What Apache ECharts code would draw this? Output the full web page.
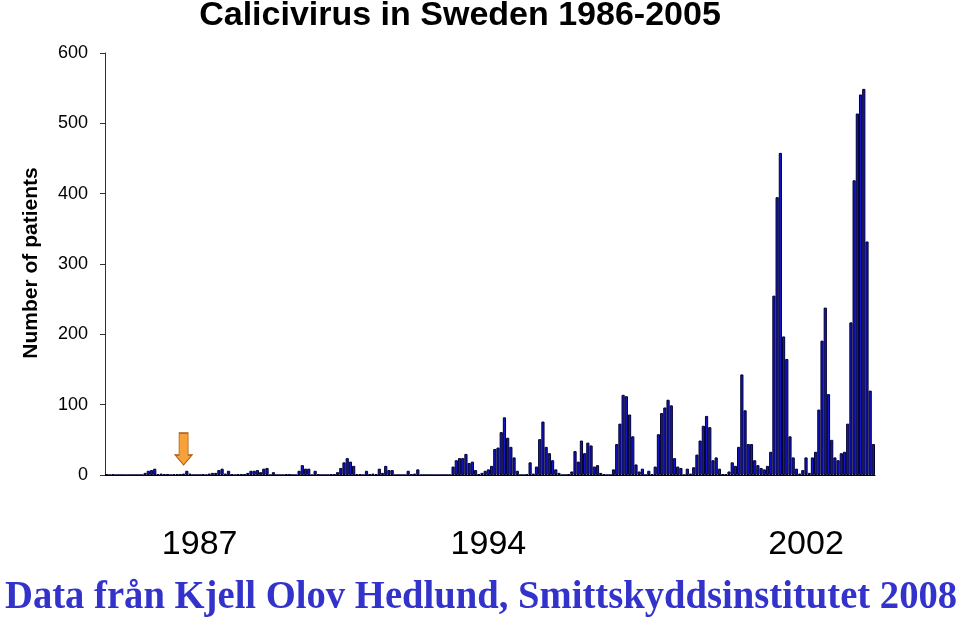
<!DOCTYPE html>
<html><head><meta charset="utf-8">
<script src="https://cdn.jsdelivr.net/npm/echarts@6/dist/echarts.min.js"></script>
<style>html,body{margin:0;padding:0;background:#fff}#c{width:959px;height:620px}</style>
</head><body><div id="c"></div>
<script>
// Monthly number of patients (240 months)
const patients1986_1989 = [1,0,1,0,0,0,0,0,0,0,0,0,3,6,7,9,1,2,1,1,0,1,1,1,2,6,2,0,0,0,1,0,2,3,3,7,9,2,6,1,0,1,1,1,3,6,6,7];
const patients1990_1993 = [4,9,10,0,4,0,0,0,1,1,0,0,6,14,9,9,0,6,1,0,0,0,1,1,4,10,18,24,19,13,1,1,0,6,1,2,1,9,3,13,7,7,0,0,0,0,6,1,2,8];
const patientsGap = [0,0,0,0,0,0,0,0,0,0];
const patients1995_1999 = [12,21,24,24,30,17,19,7,1,3,6,8,13,37,39,61,82,53,40,25,6,0,0,1,18,2,12,51,76,40,31,21,8,3,0,0,1,5,34,19,49,31,46,42,12,14,3,1,0,0,8,44,73,114,112,86,55,15,5,9,0,6,1,12,58,88,96,107,99,24];
const patients2000_2005 = [12,10,0,9,2,11,29,49,70,84,68,21,25,9,1,1,5,18,13,40,143,92,44,44,21,14,10,8,13,33,255,395,458,197,165,55,25,9,2,7,25,3,25,33,93,191,238,115,50,25,21,31,33,73,217,419,514,541,549,332,120,44];
const patients = [].concat(patients1986_1989, patients1990_1993, patientsGap, patients1995_1999, patients2000_2005);

const months = [];
for (let y = 1986; y <= 2005; y++) for (let m = 1; m <= 12; m++) months.push(y + '-' + String(m).padStart(2, '0'));

const yTicks = [0, 100, 200, 300, 400, 500, 600];
const xTickLabels = ['1987', '1994', '2002'];
const xTickIndex = [29, 119, 218];
const arrowIndex = 24, arrowValue = 37;

const chart = echarts.init(document.getElementById('c'), null, {renderer: 'canvas'});
chart.setOption({
  animation: false,
  backgroundColor: '#ffffff',
  grid: {left: 105, right: 84, top: 53, bottom: 145, containLabel: false},
  xAxis: {
    type: 'category', data: months, boundaryGap: true,
    axisLine: {show: true, lineStyle: {color: '#000', width: 1}},
    axisTick: {show: false},
    axisLabel: {
      interval: (i) => xTickIndex.indexOf(i) >= 0,
      formatter: (v, i) => { const k = xTickIndex.indexOf(i); return k >= 0 ? xTickLabels[k] : ''; },
      fontSize: 34, fontFamily: 'Liberation Sans', color: '#000', margin: 53
    },
    splitLine: {show: false}
  },
  yAxis: {
    type: 'value', min: yTicks[0], max: yTicks[yTicks.length - 1], interval: 100,
    axisLine: {show: true, lineStyle: {color: '#333', width: 1}},
    axisTick: {show: true, length: 5, lineStyle: {color: '#333'}},
    axisLabel: {fontSize: 18, fontFamily: 'Liberation Sans', color: '#000', margin: 17},
    splitLine: {show: false}
  },
  series: [{
    type: 'bar', data: patients, barWidth: '100%', barGap: '0%',
    itemStyle: {color: '#1414c8', borderColor: '#000030', borderWidth: 1},
    markPoint: {
      silent: true,
      label: {show: false},
      data: [{
        coord: [arrowIndex, arrowValue],
        symbol: 'path://M4,0 L13,0 L13,22 L17,22 L8.5,32 L0,22 L4,22 Z',
        symbolSize: [17, 32],
        itemStyle: {color: '#F8A03A', borderColor: '#A85a14', borderWidth: 1}
      }]
    }
  }],
  graphic: [
    {type: 'text', x: 460, y: 16, style: {text: 'Calicivirus in Sweden 1986-2005', font: 'bold 34px "Liberation Sans"', fill: '#000', textAlign: 'center', textVerticalAlign: 'middle'}},
    {type: 'text', x: 31, y: 263, rotation: Math.PI / 2, style: {text: 'Number of patients', font: 'bold 21px "Liberation Sans"', fill: '#000', textAlign: 'center', textVerticalAlign: 'middle'}},
    {type: 'text', x: 5, y: 598, scaleX: 0.966, style: {text: 'Data från Kjell Olov Hedlund, Smittskyddsinstitutet 2008', font: 'bold 40px "Liberation Serif"', fill: '#3333cc', textAlign: 'left', textVerticalAlign: 'middle'}}
  ]
});
</script></body></html>
